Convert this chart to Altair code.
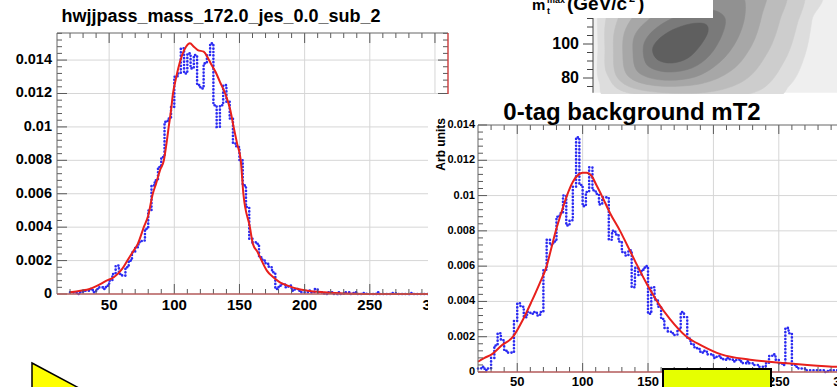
import altair as alt
import pandas as pd

FONT = "Liberation Sans"
BLUE = "#2b2bf2"
RED = "#e8201c"
GRID = "#d6d6d6"
TICK = "#5a5a5a"

# ---------------------------------------------------------------
# hwjjpass_mass_172.0_jes_0.0_sub_2 : histogram (2.5 GeV bins from 20) + fit
# ---------------------------------------------------------------
MASS_BIN_START = 20.0
MASS_BIN_WIDTH = 2.5
mass_counts = [
    0.0001, 0.0001, 0.0000, 0.0001, 0.0002, 0.0002, 0.0003, 0.0001,   # 20 - 37.5
    0.0003, 0.0004, 0.0003, 0.0005, 0.0008, 0.0012, 0.0017, 0.0012,   # 40 - 57.5
    0.0011, 0.0016, 0.0020, 0.0025, 0.0028, 0.0031, 0.0032, 0.0039,   # 60 - 77.5
    0.0050, 0.0065, 0.0068, 0.0076, 0.0082, 0.0103, 0.0105, 0.0112,   # 80 - 97.5
    0.0130, 0.0132, 0.0147, 0.0132, 0.0144, 0.0135, 0.0143, 0.0125,   # 100 - 117.5
    0.0123, 0.0138, 0.0143, 0.0150, 0.0113, 0.0100, 0.0113, 0.0125,   # 120 - 137.5
    0.0115, 0.0105, 0.0090, 0.0088, 0.0080, 0.0065, 0.0052, 0.0033,   # 140 - 157.5
    0.0031, 0.0030, 0.0022, 0.0020, 0.0018, 0.0016, 0.0013, 0.0003,   # 160 - 177.5
    0.0005, 0.0006, 0.0004, 0.0005, 0.0002, 0.0003, 0.0002, 0.0001,   # 180 - 197.5
    0.0001, 0.0002, 0.0001, 0.0003, 0.0001, 0.0001, 0.0000, 0.0001,   # 200 - 217.5
    0.0001, 0.0000, 0.0001, 0.0000, 0.0001, 0.0001, 0.0000, 0.0001,   # 220 - 237.5
    0.0000, 0.0000, 0.00005, 0.0000, 0.0000, 0.0000, 0.0001, 0.0000,  # 240 - 257.5
    0.0000, 0.0000, 0.0000, 0.00005, 0.0000, 0.0000, 0.0000, 0.0000,  # 260 - 277.5
    0.00005, 0.0000, 0.0000, 0.0000, 0.0000, 0.0000, 0.0001, 0.0001,  # 280 - 297.5
]
mass_fit_x = [20, 28, 35, 41, 48, 53.6, 60, 64, 68, 72,
              76.6, 80, 83.5, 86, 89, 92, 94, 95.7, 97.5, 99,
              101, 103, 106, 109, 112, 115, 118, 122.5, 126, 128,
              131.6, 135, 139, 143, 145.5, 148.2, 151, 153, 158, 160.3,
              164, 167, 171, 176, 181, 187, 195, 202, 215, 230,
              260, 310]
mass_fit_y = [0.0001, 0.0002, 0.0003, 0.0005, 0.0008, 0.0010, 0.0015, 0.0020, 0.0025, 0.0030,
              0.0040, 0.0047, 0.0060, 0.0066, 0.0074, 0.0080, 0.0090, 0.0100, 0.0110, 0.0120,
              0.0128, 0.0135, 0.0143, 0.0148, 0.0150, 0.0148, 0.0146, 0.0145, 0.0141, 0.0138,
              0.0133, 0.0127, 0.0120, 0.0110, 0.0100, 0.0090, 0.0080, 0.0060, 0.0040, 0.0030,
              0.0025, 0.0020, 0.0014, 0.0010, 0.0007, 0.0005, 0.0003, 0.0002, 0.0001, 0.00003,
              0.0, 0.0]

# ---------------------------------------------------------------
# 0-tag background mT2 : histogram (2.5 GeV bins from 20) + fit
# ---------------------------------------------------------------
MT2_BIN_START = 20.0
MT2_BIN_WIDTH = 2.5
mt2_counts = [
    0.0002, 0.0003, 0.0001, 0.0002, 0.0008, 0.0015, 0.0022, 0.0018,   # 20 - 37.5
    0.0012, 0.0011, 0.0011, 0.0029, 0.0039, 0.0037, 0.0031, 0.0034,   # 40 - 57.5
    0.0033, 0.0034, 0.0032, 0.0034, 0.0058, 0.0075, 0.0072, 0.0074,   # 60 - 77.5
    0.0088, 0.0090, 0.0100, 0.0083, 0.0086, 0.0105, 0.0133, 0.0106,   # 80 - 97.5
    0.0094, 0.0102, 0.0116, 0.0103, 0.0101, 0.0095, 0.0099, 0.0099,   # 100 - 117.5
    0.0075, 0.0080, 0.0078, 0.0074, 0.0068, 0.0066, 0.0069, 0.0048,   # 120 - 137.5
    0.0059, 0.0055, 0.0058, 0.0060, 0.0033, 0.0048, 0.0041, 0.0037,   # 140 - 157.5
    0.0030, 0.0025, 0.0023, 0.0022, 0.0021, 0.0024, 0.0034, 0.0031,   # 160 - 177.5
    0.0019, 0.0016, 0.0014, 0.0013, 0.0011, 0.0012, 0.0010, 0.0010,   # 180 - 197.5
    0.0008, 0.0009, 0.0008, 0.0007, 0.0008, 0.0007, 0.0006, 0.0007,   # 200 - 217.5
    0.0006, 0.0005, 0.0006, 0.0005, 0.0004, 0.0004, 0.0003, 0.0003,   # 220 - 237.5
    0.0005, 0.0009, 0.0010, 0.0007, 0.0005, 0.0004, 0.0025, 0.0022,   # 240 - 257.5
    0.0004, 0.0003, 0.0002, 0.0002, 0.0001, 0.0001, 0.0001, 0.0001,   # 260 - 277.5
    0.0001, 0.0001, 0.0000, 0.0001, 0.0001, 0.0001, 0.0000, 0.0001,   # 280 - 297.5
]
mt2_fit_x = [20, 25, 30.5, 38, 46.8, 54.6, 61, 67, 72.5, 76,
             79.5, 84, 88, 92.7, 97, 100, 103, 107, 110.5, 114.6,
             121, 128.6, 134, 140, 149, 157, 166.8, 179.5, 191, 206,
             228, 256, 291, 300]
mt2_fit_y = [0.00058, 0.0008, 0.0010, 0.0015, 0.0020, 0.0030, 0.0040, 0.0050, 0.0060, 0.0070,
             0.0080, 0.0091, 0.0100, 0.0108, 0.0112, 0.0113, 0.0113, 0.0111, 0.0106, 0.0100,
             0.0090, 0.0080, 0.0072, 0.0063, 0.0050, 0.0040, 0.0030, 0.0020, 0.0015, 0.0010,
             0.0007, 0.0005, 0.0003, 0.00028]

# axis ticks and labels
mass_x_major = [50, 100, 150, 200, 250, 300]
mass_x_labels = ["50", "100", "150", "200", "250", "300"]
mass_y_major = [0, 0.002, 0.004, 0.006, 0.008, 0.010, 0.012, 0.014]
mass_y_labels = ["0", "0.002", "0.004", "0.006", "0.008", "0.01", "0.012", "0.014"]
mt2_x_major = [50, 100, 150, 200, 250, 300]
mt2_x_labels = ["50", "100", "150", "200", "250", "300"]
mt2_y_major = [0, 0.002, 0.004, 0.006, 0.008, 0.010, 0.012, 0.014]
mt2_y_labels = ["0", "0.002", "0.004", "0.006", "0.008", "0.01", "0.012", "0.014"]

# ---------------------------------------------------------------
# m_t^max contour inset: filled levels, outermost first
# ---------------------------------------------------------------
contour_levels = [
    ("#dddddd", [62.9, 63.5, 75.9, 158.2, 175.9, 184.7, 188.8, 190.6, 122.9, 64.1, 62.6],
                [99.4, 78.0, 67.1, 67.1, 75.9, 93.5, 114.1, 131.8, 143.5, 137.6, 120.0]),
    ("#cdcdcd", [67.0, 68.5, 81.8, 128.8, 158.2, 172.9, 180.0, 183.5, 158.2, 99.4, 72.9, 67.5],
                [97.6, 81.8, 71.0, 68.5, 72.9, 90.6, 111.2, 131.8, 143.5, 140.6, 128.8, 114.1]),
    ("#bcbcbc", [72.0, 74.5, 90.6, 125.9, 149.4, 162.9, 170.0, 172.9, 146.5, 105.3, 81.8, 73.5],
                [96.5, 80.0, 72.5, 71.5, 78.8, 95.3, 114.1, 131.8, 140.6, 137.6, 125.9, 111.2]),
    ("#a7a7a7", [77.5, 80.6, 96.5, 122.9, 141.8, 153.5, 159.4, 161.2, 140.6, 111.2, 90.6, 79.5],
                [95.3, 81.2, 75.5, 76.5, 84.7, 99.4, 117.1, 131.8, 137.6, 132.9, 122.9, 109.4]),
    ("#919191", [83.5, 86.5, 100.6, 120.0, 134.7, 144.7, 149.4, 147.6, 134.7, 114.1, 96.5, 85.3],
                [95.3, 83.5, 78.8, 80.6, 89.4, 102.4, 117.1, 128.8, 130.6, 125.9, 117.1, 106.5]),
    ("#7a7a7a", [89.5, 92.4, 104.1, 118.2, 128.8, 135.9, 137.6, 130.0, 117.1, 102.4, 92.4],
                [96.5, 87.1, 83.5, 85.9, 93.5, 105.3, 115.3, 120.0, 118.8, 112.9, 104.7]),
    ("#5f5f5f", [95.0, 98.2, 106.5, 115.9, 122.9, 127.6, 125.9, 117.1, 106.5, 98.2],
                [96.5, 90.6, 88.8, 91.8, 98.8, 107.1, 111.8, 111.8, 108.2, 102.4]),
]
contour_y_major = [80, 100]
contour_y_labels = ["80", "100"]
contour_y_minor = [75, 85, 90, 95, 105, 110, 115, 120, 125]


def hist_panel(cfg, bin_start, bin_width, counts, fit_x, fit_y):
    (xa, xb), (ya, yb) = cfg["xdom"], cfg["ydom"]
    xs = alt.Scale(domain=[xa, xb], range=cfg["xrng"], nice=False, zero=False)
    ys = alt.Scale(domain=[ya, yb], range=cfg["yrng"], nice=False, zero=False)
    kx = (cfg["xrng"][1] - cfg["xrng"][0]) / (xb - xa)
    ky = (cfg["yrng"][0] - cfg["yrng"][1]) / (yb - ya)

    def X(f):
        return alt.X(f, type="quantitative", scale=xs, axis=None)

    def Y(f):
        return alt.Y(f, type="quantitative", scale=ys, axis=None)

    def segs(rows, **mark):
        df = pd.DataFrame(rows, columns=["x", "x2", "y", "y2"])
        return alt.Chart(df).mark_rule(**mark).encode(
            x=X("x"), x2="x2:Q", y=Y("y"), y2="y2:Q")

    def ticks(values, length, side):
        rows = []
        for v in values:
            if side == "bottom":
                rows.append((v, v, ya, ya + length / ky))
            elif side == "top":
                rows.append((v, v, yb, yb - length / ky))
            elif side == "left":
                rows.append((xa, xa + length / kx, v, v))
            else:
                rows.append((xb, xb - length / kx, v, v))
        return rows

    x_minor = [v for v in cfg["x_minor"] if v not in cfg["x_major"]]
    y_minor = [v for v in cfg["y_minor"]]

    grid_rows = [(v, v, ya, yb) for v in cfg["x_major"] if xa < v < xb]
    grid_rows += [(xa, xb, v, v) for v in cfg["y_major"] if ya < v < yb]

    tick_rows = []
    for side in cfg["x_tick_sides"]:
        tick_rows += ticks(cfg["x_major"], cfg["major_len"], side)
        tick_rows += ticks(x_minor, cfg["minor_len"], side)
    for side in cfg["y_tick_sides"]:
        tick_rows += ticks(cfg["y_major"], cfg["major_len"], side)
        tick_rows += ticks(y_minor, cfg["minor_len"], side)

    edges = [bin_start + bin_width * i for i in range(len(counts) + 1)]
    hist_df = pd.DataFrame({"x": edges, "y": counts + [counts[-1]]})
    fit_df = pd.DataFrame({"x": fit_x, "y": fit_y})

    parts = [
        segs(grid_rows, color=GRID, strokeWidth=1),
        alt.Chart(hist_df).mark_line(
            interpolate="step-after", color=BLUE, strokeWidth=2.6,
            strokeDash=[0.1, 3.3], strokeCap="round").encode(x=X("x"), y=Y("y")),
        alt.Chart(fit_df).mark_line(
            interpolate="monotone", color=RED, strokeWidth=2).encode(x=X("x"), y=Y("y")),
        segs(tick_rows, color=TICK, strokeWidth=1),
        segs([(xa, xa, ya, yb)], color="#666666", strokeWidth=1),
        segs([(xa, xb, yb, yb)], color="#666666", strokeWidth=1),
        segs([(xa, xb, ya, ya)], color="#b35a5a", strokeWidth=1.6),
    ]
    if cfg.get("right_edge"):
        parts.append(segs([(xb, xb, ya, yb)], color="#cc3a3a", strokeWidth=1.4))

    xlab = pd.DataFrame({"x": cfg["x_major"], "y": [ya] * len(cfg["x_major"]),
                         "t": cfg["x_labels"]})
    ylab = pd.DataFrame({"x": [xa] * len(cfg["y_major"]), "y": cfg["y_major"],
                         "t": cfg["y_labels"]})
    parts.append(alt.Chart(xlab).mark_text(
        font=FONT, fontWeight="bold", fontSize=cfg["x_label_size"], color="black",
        align="center", baseline="alphabetic", dy=cfg["x_label_dy"]).encode(
        x=X("x"), y=Y("y"), text="t:N"))
    parts.append(alt.Chart(ylab).mark_text(
        font=FONT, fontWeight="bold", fontSize=cfg["y_label_size"], color="black",
        align="right", baseline="middle", dx=-cfg["y_label_dx"]).encode(
        x=X("x"), y=Y("y"), text="t:N"))
    return alt.layer(*parts)


mass_cfg = dict(
    xdom=[10, 310], xrng=[57, 448], ydom=[0, 0.01562], yrng=[294, 33],
    x_major=mass_x_major, x_labels=mass_x_labels,
    x_minor=list(range(20, 310, 10)),
    y_major=mass_y_major, y_labels=mass_y_labels,
    y_minor=[round(0.0004 * i, 4) for i in range(1, 40) if i % 5],
    x_tick_sides=["bottom", "top"], y_tick_sides=["left", "right"],
    major_len=10, minor_len=5, right_edge=True,
    x_label_size=15, x_label_dy=16, y_label_size=14.5, y_label_dx=5,
)
mt2_cfg = dict(
    xdom=[20, 300], xrng=[478, 844.2], ydom=[0, 0.014], yrng=[372, 125],
    x_major=mt2_x_major, x_labels=mt2_x_labels,
    x_minor=list(range(30, 300, 10)),
    y_major=mt2_y_major, y_labels=mt2_y_labels,
    y_minor=[round(0.0004 * i, 4) for i in range(1, 35) if i % 5],
    x_tick_sides=["bottom", "top"], y_tick_sides=["left"],
    major_len=9, minor_len=5, right_edge=False,
    x_label_size=13, x_label_dy=13.5, y_label_size=11, y_label_dx=3,
)

# slide-level pixel scales for panels, titles and callouts
PX = alt.Scale(domain=[0, 837], range=[0, 837], nice=False, zero=False)
PY = alt.Scale(domain=[0, 387], range=[0, 387], nice=False, zero=False)


def page_rects(rows, **mark):
    df = pd.DataFrame(rows, columns=["x", "x2", "y", "y2"])
    return alt.Chart(df).mark_rect(**mark).encode(
        x=alt.X("x:Q", scale=PX, axis=None), x2="x2:Q",
        y=alt.Y("y:Q", scale=PY, axis=None), y2="y2:Q")


def page_text(rows, **mark):
    df = pd.DataFrame(rows, columns=["x", "y", "t"])
    return alt.Chart(df).mark_text(font=FONT, color="black", **mark).encode(
        x=alt.X("x:Q", scale=PX, axis=None),
        y=alt.Y("y:Q", scale=PY, axis=None), text="t:N")


def page_poly(xs, ys, **mark):
    df = pd.DataFrame({"x": xs, "y": ys, "i": list(range(len(xs)))})
    return alt.Chart(df).mark_line(interpolate="linear-closed", **mark).encode(
        x=alt.X("x:Q", scale=PX, axis=None),
        y=alt.Y("y:Q", scale=PY, axis=None), order="i:Q")


def contour_panel():
    cx = alt.Scale(domain=[60, 204], range=[593, 837.8], nice=False, zero=False)
    cy = alt.Scale(domain=[80, 100], range=[78, 44], nice=False, zero=False)

    def X(f):
        return alt.X(f, type="quantitative", scale=cx, axis=None)

    def Y(f):
        return alt.Y(f, type="quantitative", scale=cy, axis=None)

    bg = pd.DataFrame({"x": [60], "x2": [210], "y": [71.3], "y2": [130]})
    parts = [alt.Chart(bg).mark_rect(color="#efefef").encode(
        x=X("x"), x2="x2:Q", y=Y("y"), y2="y2:Q")]
    for color, xs, ys in contour_levels:
        df = pd.DataFrame({"x": xs, "y": ys, "i": list(range(len(xs)))})
        parts.append(alt.Chart(df).mark_line(
            interpolate="cardinal-closed", fill=color, stroke=color, strokeWidth=0.5).encode(
            x=X("x"), y=Y("y"), order="i:Q"))
    rows = [(60, 60, 71.3, 130)]
    rows += [(60 - 10 / 1.7, 60, v, v) for v in contour_y_major]
    rows += [(60 - 6 / 1.7, 60, v, v) for v in contour_y_minor]
    tdf = pd.DataFrame(rows, columns=["x", "x2", "y", "y2"])
    parts.append(alt.Chart(tdf).mark_rule(color="#444444", strokeWidth=1).encode(
        x=X("x"), x2="x2:Q", y=Y("y"), y2="y2:Q"))
    ldf = pd.DataFrame({"x": [60] * len(contour_y_major), "y": contour_y_major,
                        "t": contour_y_labels})
    parts.append(alt.Chart(ldf).mark_text(
        font=FONT, fontWeight="bold", fontSize=16, color="black",
        align="right", baseline="middle", dx=-14).encode(x=X("x"), y=Y("y"), text="t:N"))
    return alt.layer(*parts)


left_title = page_text([(221, 22, "hwjjpass_mass_172.0_jes_0.0_sub_2")],
                       fontSize=18, fontWeight="bold", align="center", baseline="alphabetic")

# axis caption of the inset, partly above the slide edge
label_box = alt.layer(
    page_rects([(450, 713, 0, 18)], color="white"),
    page_text([(532, 10, "m")], fontSize=15, fontWeight="bold", align="left", baseline="alphabetic"),
    page_text([(547, 14, "t")], fontSize=9, fontWeight="bold", align="left", baseline="alphabetic"),
    page_text([(547, 3, "max")], fontSize=9, fontWeight="bold", align="left", baseline="alphabetic"),
    page_text([(567, 10, "(GeV/c")], fontSize=19, fontWeight="bold", align="left", baseline="alphabetic"),
    page_text([(629, 2, "2")], fontSize=11, fontWeight="bold", align="left", baseline="alphabetic"),
    page_text([(638, 10, ")")], fontSize=19, fontWeight="bold", align="left", baseline="alphabetic"),
)

right_sheet = page_rects([(428, 837, 94, 387)], color="white")
right_titles = alt.layer(
    page_text([(632, 120, "0-tag background mT2")],
              fontSize=24, fontWeight="bold", align="center", baseline="alphabetic"),
    page_text([(441, 118, "Arb units")], fontSize=12, fontWeight="bold",
              angle=270, align="right", baseline="middle"),
)

callouts = alt.layer(
    page_poly([32, 92, 32], [363, 395, 427], fill="#ffff00", stroke="black", strokeWidth=1.5),
    page_rects([(663, 771, 369, 400)], fill="#e6ff00", stroke="black", strokeWidth=2),
)

chart = alt.layer(
    hist_panel(mass_cfg, MASS_BIN_START, MASS_BIN_WIDTH, mass_counts, mass_fit_x, mass_fit_y),
    left_title,
    contour_panel(),
    label_box,
    right_sheet,
    hist_panel(mt2_cfg, MT2_BIN_START, MT2_BIN_WIDTH, mt2_counts, mt2_fit_x, mt2_fit_y),
    right_titles,
    callouts,
).resolve_scale(x="independent", y="independent").properties(
    width=837, height=387, padding=0,
    autosize=alt.AutoSizeParams(type="none"),
    background="white",
).configure_view(strokeWidth=0)

chart.save("out.html", embed_options={"renderer": "svg", "actions": False})
